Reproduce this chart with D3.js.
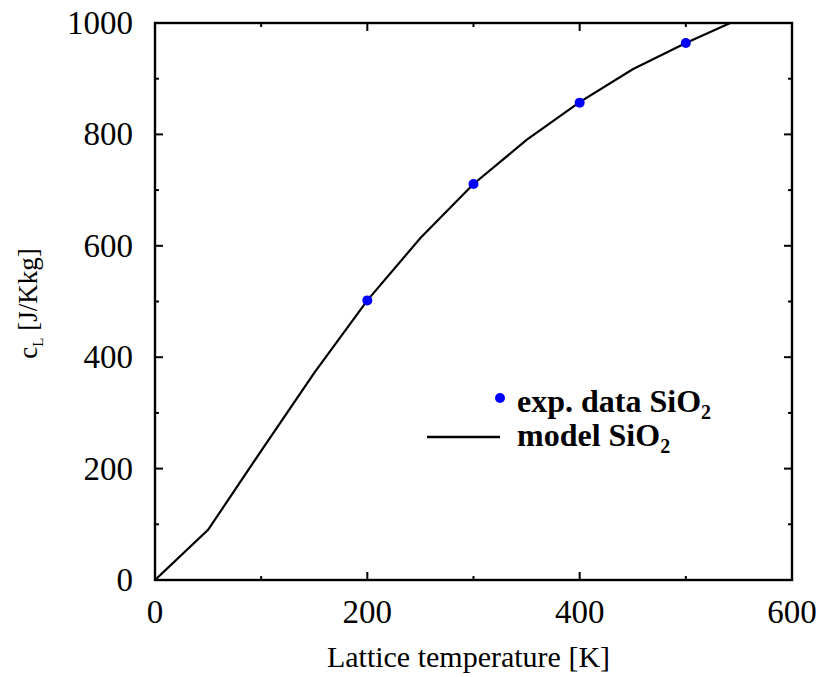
<!DOCTYPE html>
<html>
<head>
<meta charset="utf-8">
<script src="https://cdn.jsdelivr.net/npm/d3@7"></script>
<style>
  body { margin: 0; background: #fff; }
  text { font-family: "Liberation Serif", "Times New Roman", serif; fill: #000; }
</style>
</head>
<body>
<div id="chart"></div>
<script>
// model curve (K, J/Kkg)
const modelT = [0, 50, 100, 150, 200, 250, 300, 350, 400, 450, 500, 550];
const modelC = [0, 90, 232, 372, 502, 614, 711, 790, 858, 917, 964, 1007];

// experimental points
const expT = [200, 300, 400, 500];
const expC = [502, 711, 857, 964];

const xTicks = [0, 200, 400, 600];
const yTicks = [0, 200, 400, 600, 800, 1000];

const W = 822, H = 677;
const margin = {top: 23, right: 30, bottom: 97, left: 155};
const width = 792 - margin.left;
const height = 580 - margin.top;

const svg = d3.select("#chart").append("svg")
    .attr("width", W)
    .attr("height", H);

const g = svg.append("g")
    .attr("transform", `translate(${margin.left},${margin.top})`);

const x = d3.scaleLinear().domain([0, 600]).range([0, width]);
const y = d3.scaleLinear().domain([0, 1000]).range([height, 0]);

// clip for the model line
g.append("clipPath").attr("id", "clip")
    .append("rect").attr("width", width).attr("height", height);

// ticks (inward, mirrored on all sides)
const xMinor = d3.range(0, 601, 100).filter(v => !xTicks.includes(v));
const yMinor = d3.range(0, 1001, 100).filter(v => !yTicks.includes(v));

function tickLines(vals, len, horizontal) {
    vals.forEach(v => {
        if (horizontal) {
            g.append("line").attr("x1", x(v)).attr("x2", x(v)).attr("y1", height).attr("y2", height - len);
            g.append("line").attr("x1", x(v)).attr("x2", x(v)).attr("y1", 0).attr("y2", len);
        } else {
            g.append("line").attr("y1", y(v)).attr("y2", y(v)).attr("x1", 0).attr("x2", len);
            g.append("line").attr("y1", y(v)).attr("y2", y(v)).attr("x1", width).attr("x2", width - len);
        }
    });
}
tickLines(xTicks, 8, true);
tickLines(xMinor, 4, true);
tickLines(yTicks, 8, false);
tickLines(yMinor, 4, false);
g.selectAll("line").attr("stroke", "#000").attr("stroke-width", 2);

// tick labels
g.selectAll(".xl").data(xTicks).enter().append("text")
    .attr("x", d => x(d))
    .attr("y", height + 43)
    .attr("text-anchor", "middle")
    .style("font-size", "33px")
    .text(d => d);

g.selectAll(".yl").data(yTicks).enter().append("text")
    .attr("x", -22)
    .attr("y", d => y(d) + 11)
    .attr("text-anchor", "end")
    .style("font-size", "33px")
    .text(d => d);

// model line
const line = d3.line()
    .x((d, i) => x(modelT[i]))
    .y(d => y(d));

g.append("path")
    .datum(modelC)
    .attr("clip-path", "url(#clip)")
    .attr("d", line)
    .attr("fill", "none")
    .attr("stroke", "#000")
    .attr("stroke-width", 2.2);

// exp points
g.selectAll(".pt").data(expC).enter().append("circle")
    .attr("cx", (d, i) => x(expT[i]))
    .attr("cy", d => y(d))
    .attr("r", 5)
    .attr("fill", "#0000ff");

// frame
g.append("rect")
    .attr("width", width)
    .attr("height", height)
    .attr("fill", "none")
    .attr("stroke", "#000")
    .attr("stroke-width", 2.4);

// axis titles
svg.append("text")
    .attr("x", margin.left + width / 2 - 5)
    .attr("y", 667)
    .attr("text-anchor", "middle")
    .style("font-size", "30px")
    .text("Lattice temperature [K]");

const yt = svg.append("text")
    .attr("transform", `translate(37,${margin.top + height / 2 + 2}) rotate(-90)`)
    .attr("text-anchor", "middle")
    .style("font-size", "27px");
yt.append("tspan").text("c");
yt.append("tspan").attr("dy", 6).style("font-size", "15px").text("L");
yt.append("tspan").attr("dy", -6).text(" [J/Kkg]");

// legend
const leg = svg.append("g").attr("transform", "translate(500,398)");
leg.append("circle").attr("r", 5).attr("fill", "#0000ff");
const t1 = leg.append("text").attr("x", 17).attr("y", 14)
    .style("font-size", "32px").style("font-weight", "bold");
t1.append("tspan").text("exp. data SiO");
t1.append("tspan").attr("dy", 7).style("font-size", "20px").text("2");

leg.append("line").attr("x1", -73).attr("x2", 0).attr("y1", 39).attr("y2", 39)
    .attr("stroke", "#000").attr("stroke-width", 2.4);
const t2 = leg.append("text").attr("x", 17).attr("y", 48)
    .style("font-size", "32px").style("font-weight", "bold");
t2.append("tspan").text("model SiO");
t2.append("tspan").attr("dy", 7).style("font-size", "20px").text("2");
</script>
</body>
</html>
